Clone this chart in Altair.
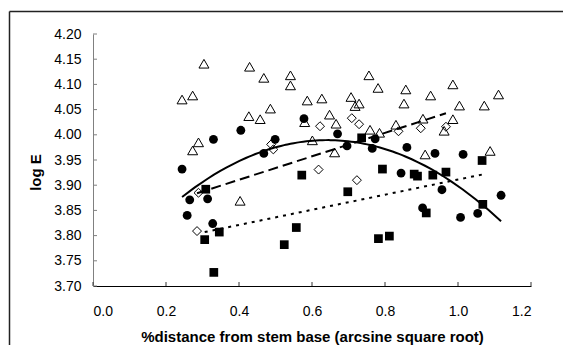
import altair as alt
import pandas as pd

# ---- data ----
# open triangles
tri_x = [0.244, 0.273, 0.304, 0.429, 0.468, 0.541, 0.541, 0.587, 0.273, 0.289,
         0.427, 0.458, 0.486, 0.580, 0.756, 0.781, 0.857, 0.986, 1.111, 0.627,
         0.707, 0.729, 0.718, 0.852, 0.925, 1.004, 1.072, 0.648, 0.666, 0.759,
         0.785, 0.830, 0.904, 0.986, 0.962, 0.601, 0.662, 0.910, 1.088, 0.403]
tri_y = [4.070, 4.078, 4.141, 4.135, 4.113, 4.118, 4.098, 4.068, 3.969, 3.985,
         4.037, 4.031, 4.052, 4.025, 4.118, 4.093, 4.090, 4.100, 4.080, 4.072,
         4.075, 4.062, 4.057, 4.062, 4.078, 4.058, 4.058, 4.040, 4.022, 4.010,
         4.004, 4.020, 4.032, 4.031, 4.008, 3.989, 3.965, 3.961, 3.968, 3.869]
# filled circles
cir_x = [0.244, 0.330, 0.405, 0.468, 0.499, 0.578, 0.670, 0.696, 0.773, 0.765,
         0.860, 0.937, 1.014, 0.265, 0.314, 0.258, 0.328, 0.844, 0.956, 0.903,
         1.007, 1.054, 1.118]
cir_y = [3.932, 3.991, 4.009, 3.963, 3.991, 4.032, 4.002, 3.978, 3.992, 3.973,
         3.975, 3.963, 3.961, 3.871, 3.873, 3.840, 3.824, 3.924, 3.891, 3.855,
         3.836, 3.844, 3.880]
# filled squares
sq_x = [0.736, 1.066, 0.309, 0.306, 0.346, 0.331, 0.572, 0.557, 0.524, 0.698,
        0.793, 0.880, 0.889, 0.931, 0.967, 0.913, 1.068, 0.782, 0.812]
sq_y = [3.994, 3.949, 3.892, 3.792, 3.807, 3.727, 3.920, 3.816, 3.782, 3.887,
        3.932, 3.922, 3.918, 3.920, 3.926, 3.845, 3.862, 3.794, 3.799]
# open diamonds
dia_x = [0.488, 0.494, 0.622, 0.709, 0.729, 0.837, 0.898, 0.967, 0.289, 0.285,
         0.618, 0.723]
dia_y = [3.981, 3.971, 4.017, 4.033, 4.021, 4.007, 4.013, 4.016, 3.885, 3.809,
         3.931, 3.910]

x_ticks = [0.0, 0.2, 0.4, 0.6, 0.8, 1.0, 1.2]
y_ticks = [3.70, 3.75, 3.80, 3.85, 3.90, 3.95, 4.00, 4.05, 4.10, 4.15, 4.20]

x_title = "%distance from stem base (arcsine square root)"
y_title = "log E"

FONT = "Liberation Sans"
W, H = 438, 252

tri = pd.DataFrame({"x": tri_x, "y": tri_y})
cir = pd.DataFrame({"x": cir_x, "y": cir_y})
sq = pd.DataFrame({"x": sq_x, "y": sq_y})
dia = pd.DataFrame({"x": dia_x, "y": dia_y})
xt = pd.DataFrame({"x": x_ticks})
yt = pd.DataFrame({"y": y_ticks})

xscale = alt.Scale(domain=[0, 1.2], nice=False, zero=False)
yscale = alt.Scale(domain=[3.70, 4.20], nice=False, zero=False)

x_axis = alt.Axis(values=x_ticks, format=".1f", grid=False, ticks=False, labels=True,
                  domain=True, domainColor="#000000", domainWidth=1,
                  labelFontSize=14, labelPadding=18, labelColor="#000000",
                  labelFont=FONT, titleFont=FONT,
                  titleFontSize=15, titleFontWeight="bold", titleColor="#000000",
                  titleBaseline="alphabetic", titleY=55)
y_axis = alt.Axis(values=y_ticks, format=".2f", grid=False, ticks=False, labels=True,
                  domain=True, domainColor="#808080", domainWidth=1,
                  labelFontSize=14, labelPadding=12, labelColor="#000000",
                  labelFont=FONT, titleFont=FONT,
                  titleFontSize=15, titleFontWeight="bold", titleColor="#000000",
                  titleAngle=270, titleBaseline="alphabetic",
                  titleX=-53, titleY=138, titleAlign="center")

X = alt.X("x:Q", scale=xscale, title=x_title, axis=x_axis)
Y = alt.Y("y:Q", scale=yscale, title=y_title, axis=y_axis)

tri_l = alt.Chart(tri).mark_point(shape="triangle-up", filled=False, color="black",
                                  strokeWidth=1, size=100, opacity=1).encode(x=X, y=Y)
cir_l = alt.Chart(cir).mark_point(shape="circle", filled=True, color="black",
                                  size=78, opacity=1).encode(x=X, y=Y)
sq_l = alt.Chart(sq).mark_point(shape="square", filled=True, color="black",
                                size=76, opacity=1).encode(x=X, y=Y)
dia_l = alt.Chart(dia).mark_point(shape="diamond", filled=False, color="black",
                                  strokeWidth=1, size=80, opacity=1).encode(x=X, y=Y)

cir_fit = (alt.Chart(cir).transform_regression("x", "y", method="poly", order=2)
           .mark_line(color="black", strokeWidth=2).encode(x=X, y=Y))
dia_fit = (alt.Chart(dia).transform_regression("x", "y", method="linear")
           .mark_line(color="black", strokeWidth=2, strokeDash=[10, 5]).encode(x=X, y=Y))
sq_fit = (alt.Chart(sq).transform_regression("x", "y", method="linear")
          .mark_line(color="black", strokeWidth=2, strokeDash=[3, 5]).encode(x=X, y=Y))

# inward tick marks (Excel style)
xtick_l = alt.Chart(xt).mark_rule(color="#333333", strokeWidth=1).encode(
    x=X, y=alt.value(H - 4), y2=alt.value(H))
ytick_l = alt.Chart(yt).mark_rule(color="#808080", strokeWidth=1).encode(
    y=Y, x=alt.value(0), x2=alt.value(4))

# chart frame lines
one = alt.Data(values=[{"a": 1}])
frame_top = alt.Chart(one).mark_rule(color="#222222", strokeWidth=1.5).encode(
    x=alt.value(-83.5), x2=alt.value(478), y=alt.value(-22.5))
frame_left = alt.Chart(one).mark_rule(color="#222222", strokeWidth=1.5).encode(
    x=alt.value(-83.5), y=alt.value(-22.5), y2=alt.value(311))

chart = alt.layer(
    tri_l, cir_l, sq_l, dia_l, cir_fit, dia_fit, sq_fit, xtick_l, ytick_l,
    frame_top, frame_left
).properties(
    width=W, height=H,
    padding={"left": 85, "top": 26, "right": 32, "bottom": 59},
    autosize=alt.AutoSizeParams(type="none"),
).configure_view(stroke=None)

chart.save("out.html", embed_options={"renderer": "svg", "actions": False})
